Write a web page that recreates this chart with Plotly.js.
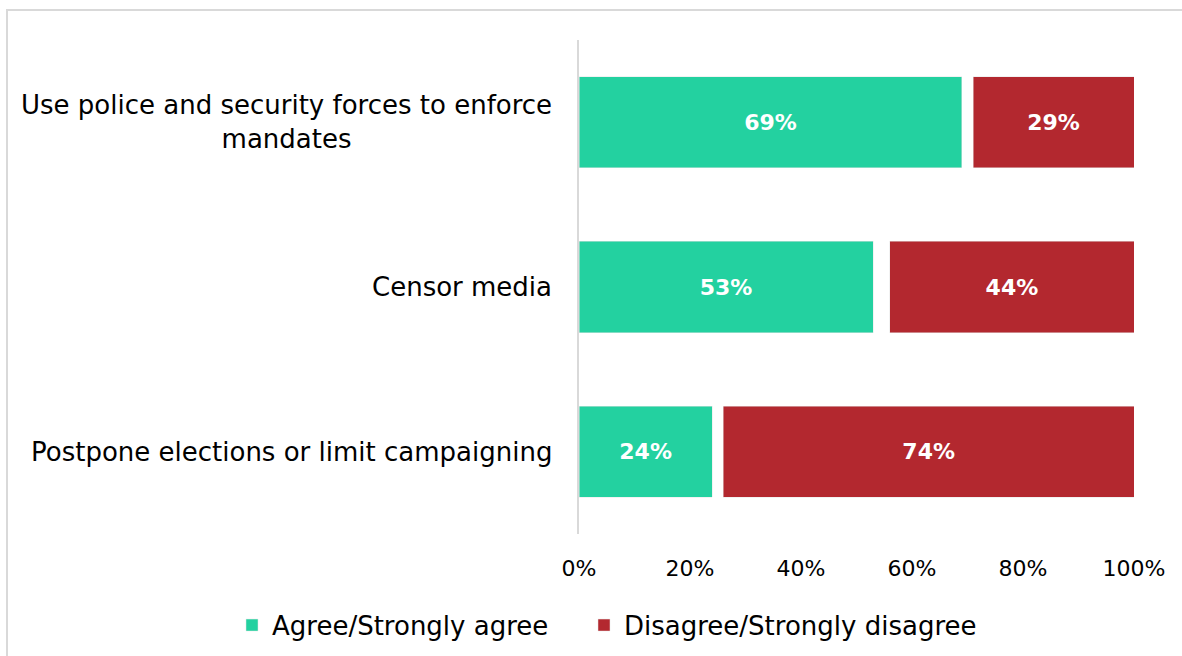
<!DOCTYPE html>
<html>
<head>
<meta charset="utf-8">
<script src="https://cdn.plot.ly/plotly-3.0.1.min.js"></script>
<style>
  html, body { margin: 0; padding: 0; overflow: hidden; background: #fff; }
  #chart { width: 1182px; height: 656px; position: absolute; left: 0; top: 0; }
  #frame { position: absolute; left: 6px; top: 9px; width: 1300px; height: 800px;
           border: 2px solid #d9d9d9; pointer-events: none; }
</style>
</head>
<body>
<div id="chart"></div>
<div id="frame"></div>
<script>
const categories = [
  "Use police and security forces to enforce<br>mandates",
  "Censor media",
  "Postpone elections or limit campaigning"
];
const agree = [69, 53, 24];
const neither = [2, 3, 2];
const disagree = [29, 44, 74];
const seriesNames = ["Agree/Strongly agree", "Disagree/Strongly disagree"];
const tickVals = [0, 20, 40, 60, 80, 100];
const tickText = ["0%", "20%", "40%", "60%", "80%", "100%"];

const FONT = "DejaVu Sans";
const GREEN = "#23d1a0";
const RED = "#b3282f";

const labelFont = { family: FONT, size: 22, color: "#ffffff", weight: "bold" };
const legendFont = { family: FONT, size: 26, color: "#000" };

const traces = [
  {
    type: "bar", orientation: "h", name: seriesNames[0], legend: "legend",
    y: categories, x: agree,
    marker: { color: GREEN, line: { color: "#e6e6e6", width: 0.5 } },
    text: agree.map(v => v + "%"), textposition: "inside", insidetextanchor: "middle",
    textfont: labelFont, hoverinfo: "skip"
  },
  {
    type: "bar", orientation: "h", name: "Neither",
    y: categories, x: neither, showlegend: false,
    marker: { color: "rgba(255,255,255,0)" }, hoverinfo: "skip"
  },
  {
    type: "bar", orientation: "h", name: seriesNames[1], legend: "legend2",
    y: categories, x: disagree,
    marker: { color: RED, line: { color: "#e6e6e6", width: 0.5 } },
    text: disagree.map(v => v + "%"), textposition: "inside", insidetextanchor: "middle",
    textfont: labelFont, hoverinfo: "skip"
  }
];

const annotations = categories.map(c => ({
  xref: "paper", yref: "y", x: -0.045, y: c, xanchor: "right", yanchor: "middle",
  text: c, showarrow: false, align: "center",
  font: { family: FONT, size: 26, color: "#000000" }
}));

const legendBase = {
  orientation: "h", xref: "container", xanchor: "left",
  yref: "container", yanchor: "middle", y: 0.047,
  font: legendFont, itemclick: false, bgcolor: "rgba(0,0,0,0)"
};

const layout = {
  width: 1182, height: 656,
  margin: { l: 579, r: 48, t: 40, b: 122 },
  paper_bgcolor: "rgba(0,0,0,0)", plot_bgcolor: "rgba(0,0,0,0)",
  barmode: "stack", bargap: 0.447,
  font: { family: FONT, color: "#000" },
  xaxis: {
    range: [0, 100], tickvals: tickVals, ticktext: tickText,
    showgrid: false, zeroline: false, showline: false, ticks: "",
    ticklabelstandoff: 19,
    tickfont: { family: FONT, size: 22, color: "#000" }
  },
  yaxis: {
    autorange: "reversed", showticklabels: false, showgrid: false,
    zeroline: false, showline: true, linecolor: "#d9d9d9", linewidth: 2, ticks: ""
  },
  legend: Object.assign({}, legendBase, { x: 232 / 1182 }),
  legend2: Object.assign({}, legendBase, { x: 584 / 1182 }),
  annotations: annotations,
  showlegend: true
};

Plotly.newPlot("chart", traces, layout, { staticPlot: true, displayModeBar: false });
</script>
</body>
</html>
